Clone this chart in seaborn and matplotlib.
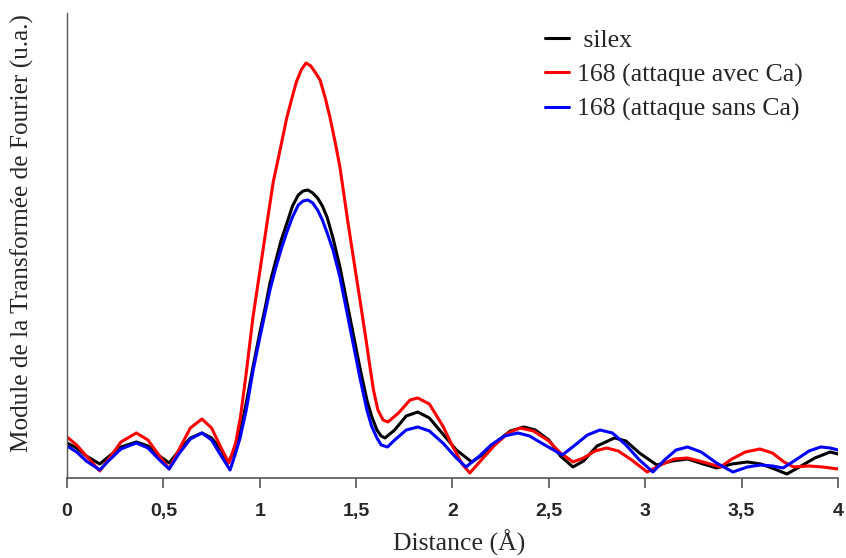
import pandas as pd
import matplotlib
matplotlib.use('Agg')
import matplotlib.pyplot as plt
import seaborn as sns

# Data (y in arbitrary units)
silex_x = [0.00, 0.05, 0.10, 0.17, 0.22, 0.28, 0.36, 0.42, 0.48, 0.53, 0.58, 0.64, 0.70, 0.75, 0.80, 0.835,
           0.87, 0.898, 0.93, 0.965, 1.00, 1.03, 1.053, 1.08, 1.11, 1.141, 1.17, 1.20, 1.225, 1.25, 1.275,
           1.30, 1.325, 1.349, 1.38, 1.416, 1.45, 1.484, 1.52, 1.556, 1.58, 1.608, 1.63, 1.65,
           1.70, 1.76, 1.82, 1.88, 1.95, 2.02, 2.10, 2.17, 2.24, 2.30, 2.37, 2.43, 2.50, 2.56, 2.625, 2.68,
           2.75, 2.84, 2.90, 2.97, 3.06, 3.14, 3.22, 3.30, 3.37, 3.45, 3.53, 3.60, 3.67, 3.735, 3.80, 3.88,
           3.96, 4.00]
silex_y = [35, 30, 22, 14, 22, 31, 36, 32, 22, 15, 27, 40, 45, 40, 28, 15,
           28, 45, 75, 111, 145, 172, 195, 215, 237, 255, 272, 283, 287, 288, 285,
           280, 272, 261, 240, 211, 178, 145, 110, 78, 62, 48, 42, 40,
           48, 62, 66, 60, 44, 28, 16, 25, 38, 47, 51, 48, 38, 22, 11, 17,
           32, 40, 37, 25, 13, 17, 19, 14, 10, 14, 16, 14, 9, 4, 11, 20,
           26, 24]

avec_x = [0.00, 0.05, 0.10, 0.17, 0.22, 0.28, 0.36, 0.42, 0.48, 0.53, 0.58, 0.64, 0.70, 0.75, 0.80, 0.84,
          0.875, 0.90, 0.93, 0.965, 1.00, 1.04, 1.07, 1.10, 1.14, 1.17, 1.19, 1.215, 1.24, 1.265, 1.29,
          1.313, 1.34, 1.364, 1.39, 1.416, 1.44, 1.458, 1.49, 1.52, 1.55, 1.572, 1.59, 1.613, 1.64, 1.665,
          1.72, 1.78, 1.82, 1.88, 1.95, 2.00, 2.05, 2.09, 2.15, 2.22, 2.29, 2.35, 2.42, 2.50, 2.56, 2.625,
          2.68, 2.74, 2.80, 2.86, 2.93, 3.01, 3.08, 3.15, 3.22, 3.30, 3.39, 3.45, 3.52, 3.595, 3.66, 3.72,
          3.77, 3.85, 3.92, 4.00]
avec_y = [41, 33, 22, 7, 20, 36, 45, 38, 22, 9, 28, 50, 59, 50, 30, 15,
          35, 61, 105, 161, 206, 258, 296, 323, 360, 382, 396, 408, 415, 412, 405,
          398, 380, 361, 337, 311, 279, 255, 215, 178, 140, 111, 88, 68, 58, 56,
          65, 78, 80, 74, 52, 32, 14, 5, 18, 33, 45, 50, 47, 37, 25, 16,
          20, 27, 30, 27, 18, 6, 13, 19, 20, 16, 11, 19, 26, 29, 25, 16,
          11, 12, 11, 9]

sans_x = [0.00, 0.05, 0.10, 0.17, 0.22, 0.28, 0.36, 0.42, 0.48, 0.53, 0.58, 0.64, 0.70, 0.75, 0.80, 0.846,
          0.87, 0.898, 0.93, 0.965, 1.00, 1.03, 1.053, 1.08, 1.11, 1.141, 1.17, 1.20, 1.225, 1.25, 1.275,
          1.30, 1.325, 1.35, 1.38, 1.416, 1.45, 1.484, 1.52, 1.556, 1.58, 1.608, 1.63, 1.663,
          1.70, 1.76, 1.82, 1.88, 1.95, 2.02, 2.07, 2.14, 2.20, 2.27, 2.34, 2.40, 2.47, 2.57, 2.63, 2.70,
          2.765, 2.83, 2.90, 2.97, 3.04, 3.10, 3.16, 3.22, 3.29, 3.37, 3.455, 3.53, 3.60, 3.66, 3.715, 3.78,
          3.85, 3.91, 3.96, 4.00]
sans_y = [32, 26, 17, 8, 18, 29, 35, 30, 18, 9, 24, 39, 45, 38, 22, 8,
          22, 40, 68, 107, 140, 167, 188, 208, 228, 246, 261, 273, 277, 278, 275,
          268, 258, 245, 228, 201, 168, 135, 100, 68, 52, 40, 33, 31,
          38, 48, 51, 47, 35, 20, 11, 22, 33, 42, 45, 42, 34, 23, 32, 43,
          48, 45, 33, 18, 6, 18, 28, 31, 26, 15, 6, 11, 13, 12, 10, 18,
          27, 31, 30, 28]

series_names = ['silex', '168 (attaque avec Ca)', '168 (attaque sans Ca)']
series_colors = ['black', 'red', 'blue']
tick_values = [0, 0.5, 1, 1.5, 2, 2.5, 3, 3.5, 4]
tick_labels = ['0', '0,5', '1', '1,5', '2', '2,5', '3', '3,5', '4']

df = pd.concat([
    pd.DataFrame({'Distance': silex_x, 'TF': silex_y, 'serie': series_names[0]}),
    pd.DataFrame({'Distance': avec_x, 'TF': avec_y, 'serie': series_names[1]}),
    pd.DataFrame({'Distance': sans_x, 'TF': sans_y, 'serie': series_names[2]}),
])

sns.set_style('ticks')
plt.rcParams['font.family'] = ['Liberation Serif', 'DejaVu Serif']

fig = plt.figure(figsize=(8.46, 5.58), dpi=100)
ax = fig.add_axes([0.0792, 0.1434, 0.9113, 0.8333])

sns.lineplot(data=df, x='Distance', y='TF', hue='serie', hue_order=series_names,
             palette=dict(zip(series_names, series_colors)), sort=False,
             linewidth=2.2, solid_joinstyle='round', ax=ax)

ax.set_xlim(0, 4)
ax.set_ylim(0, 465)
ax.set_xticks(tick_values)
ax.set_xticklabels(tick_labels, family=['Liberation Sans', 'DejaVu Sans'],
                   fontweight='bold', fontsize=14)
ax.set_yticks([])
ax.tick_params(axis='x', direction='out', length=7, width=1.2, color='#555555', pad=11)

for s in ['top', 'right']:
    ax.spines[s].set_visible(False)
ax.spines['bottom'].set_color('#555555')
ax.spines['left'].set_color('#555555')
ax.spines['bottom'].set_linewidth(1.2)
ax.spines['left'].set_linewidth(1.0)

ax.set_xlabel('Distance (Å)', fontsize=18.5)
ax.xaxis.set_label_coords(0.508, -0.112)
ax.set_ylabel('Module de la Transformée de Fourier (u.a.)', fontsize=18.2)
ax.yaxis.set_label_coords(-0.043, 0.527)

handles, _ = ax.get_legend_handles_labels()
leg = ax.legend(handles, [' silex', series_names[1], series_names[2]], loc='upper left',
                bbox_to_anchor=(0.59, 1.015), frameon=False, fontsize=18.5,
                handlelength=0.95, handletextpad=0.3, labelspacing=0.43)

fig.savefig('out.png', dpi=100)
